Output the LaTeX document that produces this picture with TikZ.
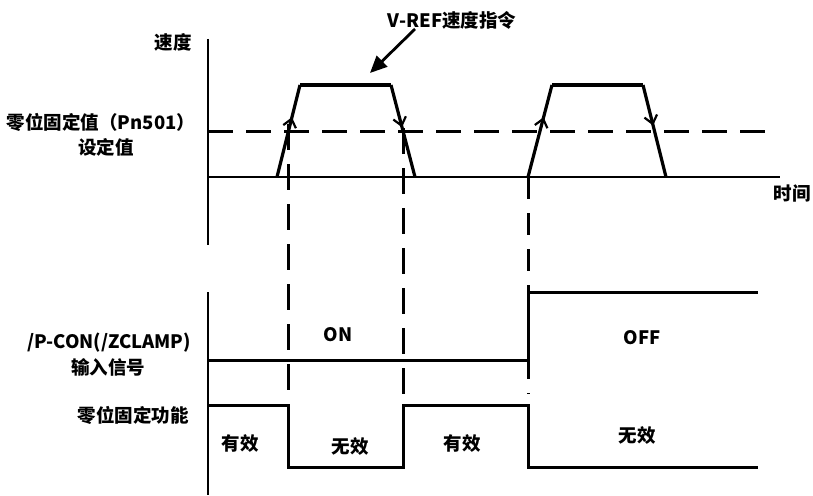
\documentclass[tikz,border=0pt]{standalone}
\usepackage{fontspec}
\setmainfont{Noto Sans CJK SC}
\usetikzlibrary{arrows.meta,decorations.markings}
\tikzset{
  lbl/.style={font=\fontsize{18.5}{22}\selectfont\bfseries, inner sep=0pt},
  axis/.style={line width=2.2pt},
  wave/.style={line width=3.2pt, line join=miter},
  sig/.style={line width=3pt, line join=miter},
  hdash/.style={line width=3pt, dash pattern=on 25pt off 13pt},
  vdash/.style={line width=3pt, dash pattern=on 26pt off 14pt},
  barb/.style={postaction=decorate, decoration={markings,
     mark=at position #1 with {\arrow{Straight Barb[length=8pt,width=13pt,line width=2.2pt]}}}},
}
\begin{document}
\begin{tikzpicture}[x=1pt,y=-1pt]
\useasboundingbox (0,0) rectangle (813,495);
% coordinates
\coordinate (ytop) at (208,39);
\coordinate (ybot) at (208,245);
\coordinate (t0) at (208,177);
\coordinate (t1) at (780,177);
\coordinate (d0) at (208,131);
\coordinate (d1) at (775,131);
\coordinate (a1) at (277,177); \coordinate (b1) at (300,85);
\coordinate (c1) at (391,85);  \coordinate (e1) at (415,177);
\coordinate (a2) at (528,177); \coordinate (b2) at (552,85);
\coordinate (c2) at (643,85);  \coordinate (e2) at (666,177);
\coordinate (v1t) at (288,124); \coordinate (v1b) at (288,390);
\coordinate (v2t) at (403,128); \coordinate (v2b) at (403,394);
\coordinate (v3t) at (528,177); \coordinate (v3b) at (528,394);
\coordinate (y2top) at (208,292);
\coordinate (y2bot) at (208,495);
% speed axes
\draw[axis] (ytop) -- (ybot);
\draw[axis] (t0) -- (t1);
\draw[hdash] (d0) -- (d1);
% vertical dashed
\draw[vdash] (v1t) -- (v1b);
\draw[vdash] (v2t) -- (v2b);
\draw[vdash, dash pattern=on 22pt off 14pt] (v3t) -- (v3b);
% trapezoids
\draw[wave, barb=0.65] (a1) -- (b1);
\draw[wave] (b1) -- (c1);
\draw[wave, barb=0.46] (c1) -- (e1);
\draw[wave, barb=0.65] (a2) -- (b2);
\draw[wave] (b2) -- (c2);
\draw[wave, barb=0.44] (c2) -- (e2);
% lower axis
\draw[axis] (y2top) -- (y2bot);
% P-CON signal
\draw[sig] (208,360) -- (528,360) -- (528,292) -- (758,292);
% zero clamp function
\draw[sig] (208,405) -- (288,405) -- (288,467) -- (403,467) -- (403,405) -- (528,405) -- (528,467) -- (758,467);
% V-REF arrow
\node[lbl] (vref) at (452,20) {V-REF速度指令};
\coordinate (vrefs) at (415,29);
\coordinate (vrefe) at (370,73);
\draw[line width=2.8pt, -{Triangle[length=17pt,width=15pt]}] (vrefs) -- (vrefe);
% labels
\node[lbl] (speed) at (173,42) {速度};
\node[lbl] (zv1) at (101,122) {零位固定值（Pn501）};
\node[lbl] (zv2) at (106,147) {设定值};
\node[lbl] (time) at (792,193) {时间};
\node[lbl] (pcon1) at (109,343) {/P-CON(/ZCLAMP)};
\node[lbl] (pcon2) at (108,367) {输入信号};
\node[lbl] (zf) at (133,415) {零位固定功能};
\node[lbl] (on) at (338,335) {ON};
\node[lbl] (off) at (642,338) {OFF};
\node[lbl] (ok1) at (240,443) {有效};
\node[lbl] (ng1) at (350,446) {无效};
\node[lbl] (ok2) at (462,443) {有效};
\node[lbl] (ng2) at (637,435) {无效};
\end{tikzpicture}
\end{document}
